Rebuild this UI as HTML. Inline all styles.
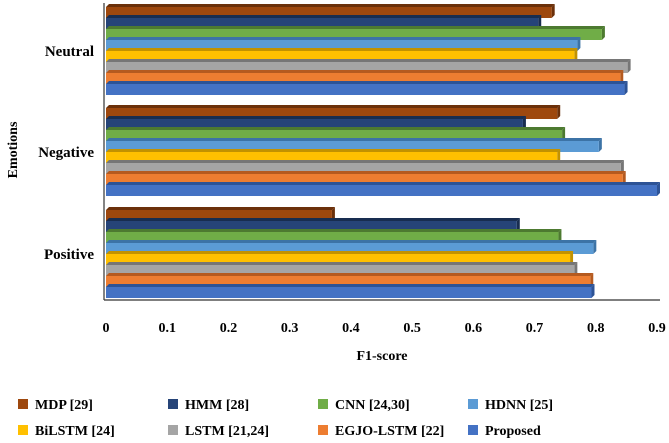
<!DOCTYPE html>
<html><head><meta charset="utf-8"><style>
body{margin:0;background:#fff;width:669px;height:438px;overflow:hidden;font-family:"Liberation Serif",serif;}
svg text{font-family:"Liberation Serif",serif;font-weight:bold;fill:#000;}
</style></head><body>
<svg id="chart" width="669" height="438">
<g id="plot"></g><g id="axes"></g><g id="legend"></g>
</svg>
<script>
const categories = ["Neutral","Negative","Positive"];
const seriesNames = ["MDP [29]","HMM [28]","CNN [24,30]","HDNN [25]","BiLSTM [24]","LSTM [21,24]","EGJO-LSTM [22]","Proposed"];
const mdp = [0.728,0.737,0.369];
const hmm = [0.706,0.681,0.671];
const cnn = [0.810,0.745,0.739];
const hdnn = [0.770,0.805,0.796];
const bilstm = [0.765,0.737,0.758];
const lstm = [0.852,0.841,0.765];
const egjo = [0.840,0.844,0.791];
const proposed = [0.847,0.900,0.793];
const ticks = [0,0.1,0.2,0.3,0.4,0.5,0.6,0.7,0.8,0.9];
const tickLabels = ["0","0.1","0.2","0.3","0.4","0.5","0.6","0.7","0.8","0.9"];

const series = [mdp,hmm,cnn,hdnn,bilstm,lstm,egjo,proposed];
const colors = ["#9E480E","#264478","#70AD47","#5B9BD5","#FFC000","#A5A5A5","#ED7D31","#4472C4"];
const darks = ["#6b300a","#182d50","#4d7a30","#3c73a6","#c29200","#767676","#b55a1f","#2d5396"];
const NS="http://www.w3.org/2000/svg";
const x0=106, x1=657, vmax=0.9;
const xs=v=>x0+(x1-x0)*v/vmax;
const groupTop=[7,108,210], barH=11, d=3;
function mk(tag,attrs,parent){const e=document.createElementNS(NS,tag);for(const k in attrs)e.setAttribute(k,attrs[k]);parent.appendChild(e);return e;}
const plot=document.getElementById('plot'), axes=document.getElementById('axes'), legend=document.getElementById('legend');
categories.forEach((c,ci)=>{
  series.forEach((s,si)=>{
    const y=groupTop[ci]+si*barH, xe=xs(s[ci]);
    const g=mk('g',{},plot);
    
    
    mk('polygon',{points:`${x0},${y} ${x0+d},${y-d} ${xe+d},${y-d} ${xe},${y}`,fill:darks[si]},g);
    mk('polygon',{points:`${xe},${y} ${xe+d},${y-d} ${xe+d},${y+barH-d} ${xe},${y+barH}`,fill:darks[si]},g);
    mk('rect',{x:x0,y:y,width:xe-x0,height:barH,fill:colors[si]},g);
  });
  const t=mk('text',{x:94,y:groupTop[ci]+barH*4+5,'text-anchor':'end','font-size':15},axes);
  t.textContent=c;
  
  
});
const ya=mk('line',{x1:104,y1:3,x2:104,y2:300,stroke:'#333','stroke-width':1.2},axes);


const xa=mk('line',{x1:104,y1:300,x2:660,y2:300,stroke:'#333','stroke-width':1.2},axes);


ticks.forEach((v,i)=>{
  const t=mk('text',{x:xs(v),y:332,'text-anchor':'middle','font-size':14},axes);
  t.textContent=tickLabels[i];
  
  
});
let t=mk('text',{x:382,y:360,'text-anchor':'middle','font-size':14},axes);
t.textContent='F1-score';


t=mk('text',{x:0,y:0,'text-anchor':'middle','font-size':14,transform:'translate(17,150) rotate(-90)'},axes);
t.textContent='Emotions';


seriesNames.forEach((n,i)=>{
  const col=i%4, row=Math.floor(i/4);
  const lx=18+col*150, ly=399+row*26;
  const g=mk('g',{},legend);
  
  
  mk('rect',{x:lx,y:ly,width:10,height:10,fill:colors[i]},g);
  const tt=mk('text',{x:lx+17,y:ly+10,'font-size':14},g);
  tt.textContent=n;
});
</script>
</body></html>
